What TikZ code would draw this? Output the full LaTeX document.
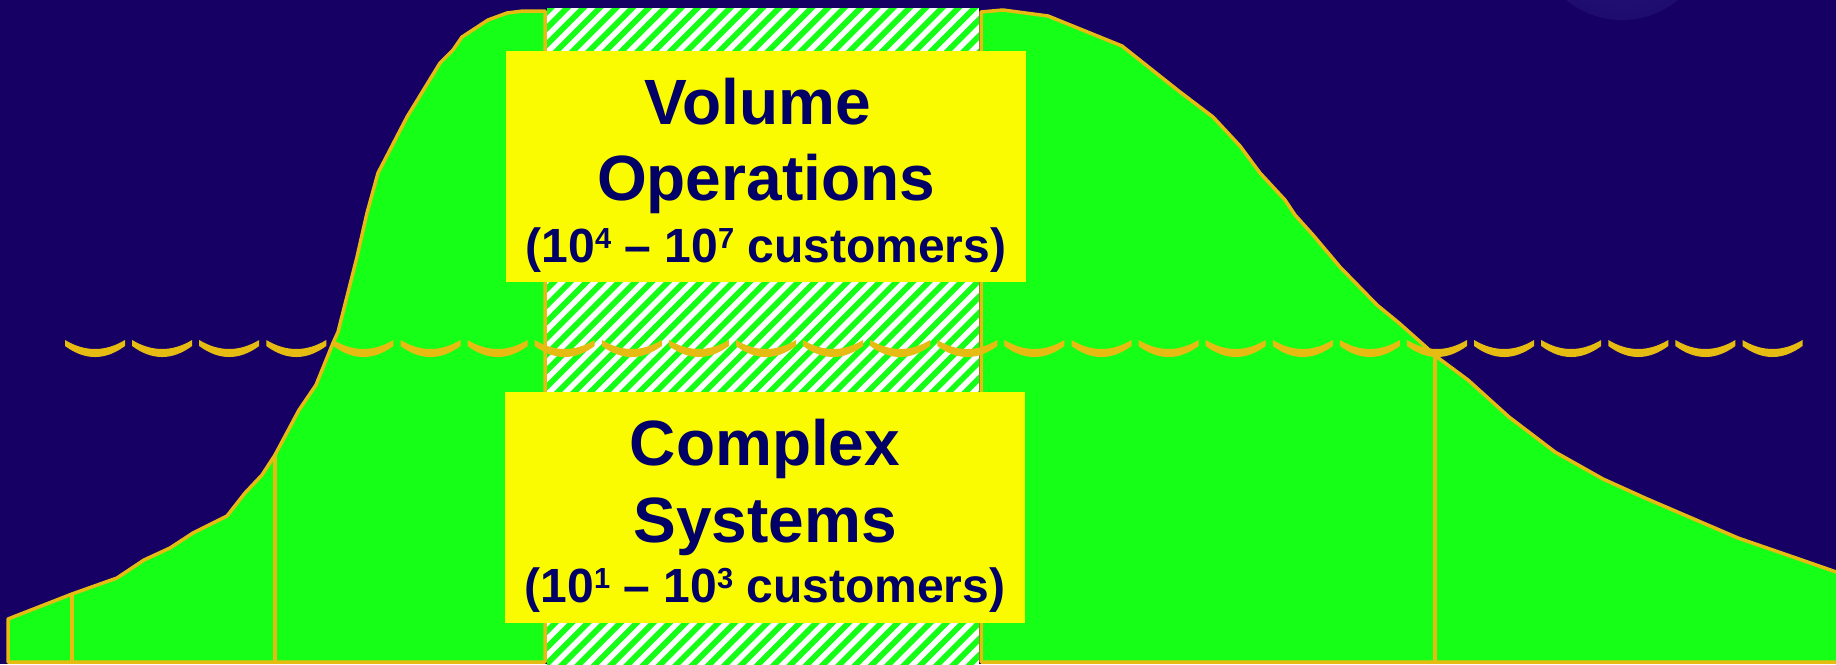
\documentclass[tikz,border=0pt]{standalone}
\usepackage{fontspec}
\setmainfont{Liberation Sans}
\definecolor{night}{HTML}{160064}
\definecolor{moonedge}{HTML}{1E0C6E}
\definecolor{moonfill}{HTML}{2A1B7E}
\definecolor{grass}{HTML}{16FF16}
\definecolor{gold}{HTML}{E6BC12}
\definecolor{lemon}{HTML}{FAFA00}
\definecolor{ink}{HTML}{000066}

\tikzset{
  hill/.style={fill=grass, draw=gold, line width=3.5pt, line join=round},
  divider/.style={draw=gold, line width=3.5pt},
  wave/.style={fill=gold},
  stripe/.style={draw=grass, line width=5.8pt},
  labelbox/.style={fill=lemon, inner sep=0pt, minimum width=520pt, minimum height=231pt},
  bigtxt/.style={text=ink, font=\fontsize{64}{64}\selectfont\bfseries, inner sep=0pt, anchor=base},
  smalltxt/.style={text=ink, font=\fontsize{48}{48}\selectfont\bfseries, inner sep=0pt, anchor=base}
}
\newcommand{\expo}[1]{\raisebox{14pt}{\fontsize{29}{29}\selectfont #1}}

\begin{document}
\begin{tikzpicture}[x=1pt, y=-1pt]
  % canvas
  \useasboundingbox (0,0) rectangle (1836,664);
  \fill[night] (0,0) rectangle (1836,664);

  % faint moon peeking in at the top
  \begin{scope}
    \clip (0,0) rectangle (1836,664);
    \fill[moonedge] (1622,-68) circle[radius=88];
    \shade[inner color=moonfill, outer color=moonedge] (1622,-68) circle[radius=85];
  \end{scope}

  % left flank of the hill
  \path[hill] (8,662) -- (8,619) -- (72,594) -- (117,578) -- (144,560) -- (170,548)
    -- (193,533) -- (227,516) -- (245,493) -- (262,475) -- (275,455) -- (299,410)
    -- (316,385) -- (333,343) -- (338,332) -- (357,257) -- (367,213) -- (378,173)
    -- (407,117) -- (440,63) -- (453,50) -- (462,37) -- (488,20) -- (507,13)
    -- (523,11) -- (545,11) -- (545,662) -- cycle;

  % right flank of the hill
  \path[hill] (981,662) -- (981,12) -- (1003,10) -- (1048,16) -- (1122,46) -- (1180,92)
    -- (1213,117) -- (1240,146) -- (1260,173) -- (1285,200) -- (1295,215) -- (1313,235)
    -- (1340,267) -- (1377,305) -- (1399,323) -- (1426,347) -- (1437,357) -- (1468,380)
    -- (1509,417) -- (1555,452) -- (1603,479) -- (1645,498) -- (1738,538) -- (1796,558)
    -- (1842,574) -- (1842,662) -- cycle;

  % dividers between the segments
  \draw[divider] (72,594) -- (72,662);
  \draw[divider] (275,455) -- (275,662);
  \draw[divider] (1435,355) -- (1435,662);

  % hatched middle band
  \begin{scope}
    \clip (547,8) rectangle (979,664);
    \fill[white] (547,8) rectangle (979,664);
    \foreach \i in {-43,...,28}
      \draw[stripe] (547+\i*16.3,680) -- ++(700,-700);
  \end{scope}

  % water line
  \foreach \i in {0,...,25} {
    \pgfmathsetmacro{\xa}{65+67.1*\i}
    \fill[wave] (\xa,340) .. controls (\xa+20,352) and (\xa+40,352) .. (\xa+60,340)
      -- (\xa+60,346) .. controls (\xa+40,360.7) and (\xa+20,360.7) .. (\xa,346) -- cycle;
  }

  % label boxes
  \node[labelbox] (upperbox) at (766,166.5) {};
  \node[labelbox] (lowerbox) at (765,507.5) {};

  \node[bigtxt] (vol) at (758,124) {Volume};
  \node[bigtxt] (ops) at (766,200) {Operations};
  \node[smalltxt] (volrange) at (766,262) {(10\expo{4} -- 10\expo{7} customers)};

  \node[bigtxt] (cpx) at (765,465) {Complex};
  \node[bigtxt] (sys) at (765,542) {Systems};
  \node[smalltxt] (cpxrange) at (765,602) {(10\expo{1} -- 10\expo{3} customers)};
\end{tikzpicture}
\end{document}
